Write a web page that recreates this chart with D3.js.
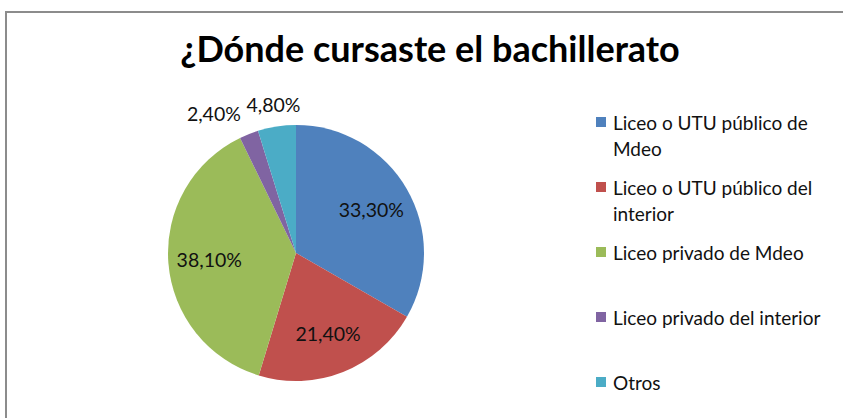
<!DOCTYPE html>
<html>
<head>
<meta charset="utf-8">
<script src="https://cdn.jsdelivr.net/npm/d3@7"></script>
<style>
  body { margin: 0; background: #fff; }
  text { font-family: Lato, "Open Sans", sans-serif; }
</style>
</head>
<body>
<svg id="chart"></svg>
<script>
var title = "¿Dónde cursaste el bachillerato";
var categories = ["Liceo o UTU público de Mdeo", "Liceo o UTU público del interior",
                  "Liceo privado de Mdeo", "Liceo privado del interior", "Otros"];
var legendLines = [["Liceo o UTU público de", "Mdeo"], ["Liceo o UTU público del", "interior"],
                   ["Liceo privado de Mdeo"], ["Liceo privado del interior"], ["Otros"]];
var values = [33.3, 21.4, 38.1, 2.4, 4.8];
var labels = ["33,30%", "21,40%", "38,10%", "2,40%", "4,80%"];
var colors = ["#4F81BD", "#C0504D", "#9BBB59", "#8064A2", "#4BACC6"];

var width = 843, height = 418;
var svg = d3.select("#chart").attr("width", width).attr("height", height);

// chart area border (runs off the right and bottom edges)
svg.append("rect")
   .attr("x", 6).attr("y", 12)
   .attr("width", width + 20).attr("height", height + 20)
   .attr("fill", "#fff")
   .attr("stroke", "#8c8c8c")
   .attr("stroke-width", 2);

svg.append("text")
   .attr("x", 430).attr("y", 62)
   .attr("text-anchor", "middle")
   .attr("font-size", 36)
   .attr("font-weight", "bold")
   .attr("fill", "#000")
   .text(title);

var cx = 296, cy = 253, r = 128;

var pie = d3.pie().sort(null).value(function(d){return d;});
var arcs = pie(values);

var arc = d3.arc().innerRadius(0).outerRadius(r);
var inArc = d3.arc().innerRadius(r * 0.68).outerRadius(r * 0.68);
var outArc = d3.arc().innerRadius(r * 1.17).outerRadius(r * 1.17);

var g = svg.append("g").attr("transform", "translate(" + cx + "," + cy + ")");

g.selectAll("path")
 .data(arcs)
 .enter()
 .append("path")
 .attr("d", arc)
 .attr("fill", function(d,i){return colors[i];});

g.selectAll("text.lbl")
 .data(arcs)
 .enter()
 .append("text")
 .attr("class", "lbl")
 .attr("font-size", 19.5)
 .attr("fill", "#111")
 .attr("dominant-baseline", "central")
 .each(function(d,i){
   var small = (d.endAngle - d.startAngle) < 0.4;
   var p = small ? outArc.centroid(d) : inArc.centroid(d);
   var mid = (d.startAngle + d.endAngle) / 2;
   var anchor = "middle";
   if (small && Math.abs(Math.sin(mid)) > 0.2) anchor = Math.sin(mid) < 0 ? "end" : "start";
   d3.select(this)
     .attr("x", p[0]).attr("y", p[1])
     .attr("text-anchor", anchor)
     .text(labels[i]);
 });

// legend
var legY = d3.scalePoint().domain(d3.range(categories.length)).range([122, 382]);

var leg = svg.selectAll("g.leg")
  .data(categories)
  .enter()
  .append("g")
  .attr("class", "leg")
  .attr("transform", function(d,i){return "translate(596," + legY(i) + ")";});

leg.append("rect")
   .attr("x", 0).attr("y", -5)
   .attr("width", 10).attr("height", 10)
   .attr("fill", function(d,i){return colors[i];});

leg.each(function(d,i){
  var t = d3.select(this).append("text")
    .attr("font-size", 19)
    .attr("fill", "#111");
  legendLines[i].forEach(function(line, j){
    t.append("tspan")
     .attr("x", 17)
     .attr("y", j * 26)
     .attr("dominant-baseline", "central")
     .text(line);
  });
});
</script>
</body>
</html>
